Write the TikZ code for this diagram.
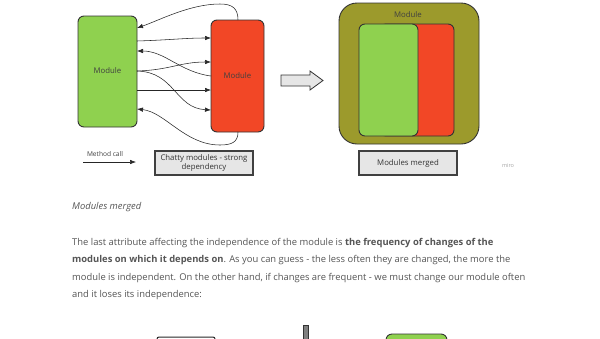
\documentclass[tikz,border=0pt]{standalone}
\usepackage{fontspec}
\setmainfont{Open Sans}
\usetikzlibrary{arrows.meta}
\definecolor{mgreen}{HTML}{8FD14F}
\definecolor{mred}{HTML}{F24726}
\definecolor{molive}{HTML}{9C9A2C}
\definecolor{mtext}{HTML}{555555}
\definecolor{mbox}{HTML}{E6E6E6}
\definecolor{medge}{HTML}{333333}
\tikzset{
  module/.style={draw=medge, line width=0.9pt, rounded corners=6pt},
  call/.style={-{Latex[length=6pt,width=4.5pt]}, line width=0.55pt, draw=black!85},
  caption/.style={draw=black!75, fill=mbox, line width=1.2pt, font=\fontsize{7.8}{9.5}\selectfont, text=black!80, align=center},
  lbl/.style={font=\fontsize{7.8}{9}\selectfont, text=black!75},
  para/.style={anchor=west, inner sep=0pt, font=\fontsize{9.4}{11}\selectfont, text=mtext},
}
\begin{document}
\begin{tikzpicture}[x=1pt,y=-1pt]
\useasboundingbox (0,0) rectangle (600,338);
% left diagram
\draw[module, fill=mgreen] (78,16) rectangle (137,127);
\draw[module, fill=mred] (211,20) rectangle (264,132);
\node[lbl] (gm) at (107.5,71) {Module};
\node[lbl] (rm) at (237.5,76) {Module};
\coordinate (g1) at (137,28);
\coordinate (g2) at (137,41);
\coordinate (g3) at (137,51);
\coordinate (g4) at (137,71);
\coordinate (g5) at (137,90);
\coordinate (g6) at (137,109);
\coordinate (r0) at (238,20);
\coordinate (r1) at (211,38);
\coordinate (r2) at (211,62);
\coordinate (r3) at (211,76);
\coordinate (r4) at (211,90);
\coordinate (r5) at (211,110);
\coordinate (r6) at (238,132);
\draw[call] (r0) .. controls (238,8) and (232,4) .. (220,4) .. controls (190,4) and (160,20) .. (g1);
\draw[call] (g2) .. controls (170,40) and (185,38) .. (r1);
\draw[call] (r3) .. controls (180,72) and (165,51) .. (g3);
\draw[call] (g4) .. controls (170,70) and (180,62) .. (r2);
\draw[call] (g4) .. controls (175,72) and (175,108) .. (r5);
\draw[call] (g5) -- (r4);
\draw[call] (r6) .. controls (238,142) and (232,145) .. (220,145) .. controls (185,145) and (165,112) .. (g6);
\coordinate (mc1) at (83,162);
\coordinate (mc2) at (136,162);
\draw[call] (mc1) -- (mc2);
\node[lbl, font=\fontsize{6.6}{8}\selectfont] (mct) at (105,154) {Method call};
\node[caption, minimum width=98pt, minimum height=24pt] (chat) at (204,163) {Chatty modules - strong\\dependency};
% block arrow
\draw[draw=black!80, fill=mbox, line width=0.8pt, line join=miter] (281,75) -- (310,75) -- (310,71) -- (323,80.5) -- (310,90) -- (310,86) -- (281,86) -- cycle;
% merged
\draw[module, fill=molive, rounded corners=18pt] (339,3) rectangle (479,144);
\node[lbl] (om) at (408,15) {Module};
\draw[module, fill=mred] (380,24) rectangle (454,136);
\draw[module, fill=mgreen] (359,24) rectangle (418,136);
\node[caption, minimum width=98pt, minimum height=24pt] (mm) at (408,163) {Modules merged};
\node[font=\fontsize{5.5}{6}\selectfont, text=black!35] (miro) at (508,166) {miro};
% text
\node[para, font=\fontsize{9.4}{11}\itshape] (cap) at (72,207) {Modules merged};
\node[para] (l1) at (72,243) {The last attribute affecting the independence of the module is \textbf{the frequency of changes of the}};
\node[para] (l2) at (72,260.5) {\textbf{modules on which it depends on}. As you can guess - the less often they are changed, the more the};
\node[para] (l3) at (72,278) {module is independent. On the other hand, if changes are frequent - we must change our module often};
\node[para] (l4) at (72,295.5) {and it loses its independence:};
% bottom partial shapes
\draw[draw=black!85, line width=1pt, rounded corners=2pt] (157,345) -- (157,337) -- (215,337) -- (215,345);
\draw[draw=black!80, fill=black!50, line width=0.8pt] (303,345) -- (303,325) -- (308,325) -- (308,345);
\draw[module, fill=mgreen] (386,334) rectangle (447,360);
\end{tikzpicture}
\end{document}
